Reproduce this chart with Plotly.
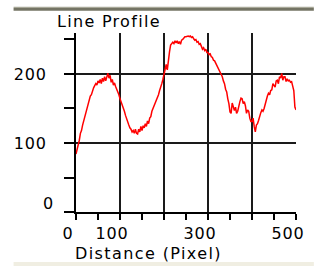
import plotly.graph_objects as go

# Line profile intensity, sampled every 2.5 pixels of distance (0 .. 500)
intensity = [
    84, 90, 100, 104, 114, 118, 126, 132, 138, 146, 150, 158, 160, 168, 170, 176, 180, 183, 186, 184,
    190, 187, 192, 186, 194, 189, 196, 190, 197, 201, 194, 198, 188, 192, 184, 187, 182, 178, 176, 170,
    164, 160, 156, 150, 146, 140, 134, 130, 126, 122, 120, 116, 118, 114, 120, 114, 113, 120, 116, 124,
    118, 125, 122, 128, 124, 132, 128, 136, 138, 146, 150, 152, 158, 162, 166, 170, 176, 180, 186, 192,
    200, 208, 214, 206, 222, 232, 242, 244, 246, 244, 248, 245, 248, 244, 247, 243, 249, 250, 252, 254,
    254, 255, 255, 254, 255, 253, 254, 251, 249, 250, 246, 247, 243, 244, 240, 236, 238, 234, 236, 231,
    231, 228, 229, 225, 224, 220, 219, 216, 212, 210, 206, 202, 199, 196, 190, 186, 178, 174, 164, 157,
    145, 143, 158, 150, 147, 152, 143, 146, 155, 160, 165, 164, 157, 160, 154, 143, 148, 146, 136, 131,
    131, 136, 124, 116, 126, 128, 133, 140, 144, 148, 146, 150, 157, 162, 168, 172, 170, 176, 177, 186,
    184, 181, 190, 191, 186, 196, 194, 201, 191, 196, 196, 189, 193, 190, 191, 188, 189, 182, 176, 152,
    148,
]
distance = [i * 2.5 for i in range(len(intensity))]

x_major = [0, 100, 200, 300, 400, 500]
x_major_text = ["0", "100", "", "300", "", "500"]
x_minor = [50, 150, 250, 350, 450]
y_major = [0, 100, 200]
y_major_text = ["", "100", "200"]
y_minor = [50, 150, 250]

title_text = "Line Profile"
xaxis_title = "Distance (Pixel)"
font_family = "DejaVu Sans"

W, H = 316, 268
L, R, T, B = 76, 18, 33, 56
PW, PH = W - L - R, H - T - B


def px_x(p):
    return (p - L) / PW


def px_y(p):
    return (H - B - p) / PH


def spaced(s, sp):
    return f'<span style="letter-spacing:{sp}px">{s}</span>' if s else s


fig = go.Figure()
fig.add_trace(go.Scatter(x=distance, y=intensity, mode="lines",
                         line=dict(color="#ff0000", width=1.5), cliponaxis=False,
                         showlegend=False))

fig.update_layout(
    width=W, height=H,
    margin=dict(l=L, r=R, t=T, b=B, pad=0),
    paper_bgcolor="white", plot_bgcolor="white",
    font=dict(family=font_family, size=16, color="black"),
)

fig.update_xaxes(
    range=[0, 500], showline=True, linecolor="black", linewidth=2,
    tickmode="array", tickvals=x_major, ticktext=[spaced(t, 0.8) for t in x_major_text],
    ticks="outside", ticklen=6, tickwidth=2, tickcolor="black",
    showgrid=True, gridcolor="#1a1a1a", gridwidth=1.5,
    minor=dict(tickvals=x_minor, ticks="outside", ticklen=6, tickwidth=2,
               tickcolor="black", showgrid=False),
    ticklabelshift=-8, ticklabelstandoff=0,
    zeroline=False, tickfont=dict(size=16),
)
fig.update_yaxes(
    range=[0, 259.4], showline=True, linecolor="black", linewidth=2,
    tickmode="array", tickvals=y_major, ticktext=[spaced(t, 0.8) for t in y_major_text],
    ticks="outside", ticklen=10, tickwidth=2, tickcolor="black",
    showgrid=True, gridcolor="#1a1a1a", gridwidth=1.5,
    minor=dict(tickvals=y_minor, ticks="outside", ticklen=10, tickwidth=2,
               tickcolor="black", showgrid=False),
    ticklabelstandoff=14,
    zeroline=False, tickfont=dict(size=16),
)

annotations = [
    dict(text=spaced(title_text, 1.3), xref="paper", yref="paper", x=px_x(109), y=px_y(22),
         xanchor="center", yanchor="middle", showarrow=False, font=dict(size=16)),
    dict(text=spaced(xaxis_title, 1.4), xref="paper", yref="paper", x=px_x(149), y=px_y(253),
         xanchor="center", yanchor="middle", showarrow=False, font=dict(size=16)),
    dict(text="0", xref="paper", yref="paper", x=px_x(55), y=px_y(203),
         xanchor="right", yanchor="middle", showarrow=False, font=dict(size=16)),
]
fig.update_layout(annotations=annotations)

shapes = [
    dict(type="rect", xref="paper", yref="paper", x0=px_x(13), x1=px_x(316),
         y0=px_y(8), y1=px_y(6.8), fillcolor="#a8a898", line=dict(width=0), layer="above"),
    dict(type="rect", xref="paper", yref="paper", x0=px_x(13), x1=px_x(316),
         y0=px_y(10.7), y1=px_y(8), fillcolor="#747464", line=dict(width=0), layer="above"),
    dict(type="rect", xref="paper", yref="paper", x0=px_x(13), x1=px_x(316),
         y0=px_y(266), y1=px_y(262), fillcolor="#f0eee2", line=dict(width=0), layer="above"),
]
fig.update_layout(shapes=shapes)

fig.write_html("out.html", config={"displayModeBar": False},
               post_script="document.body.style.margin='0';document.body.style.overflow='hidden';")
